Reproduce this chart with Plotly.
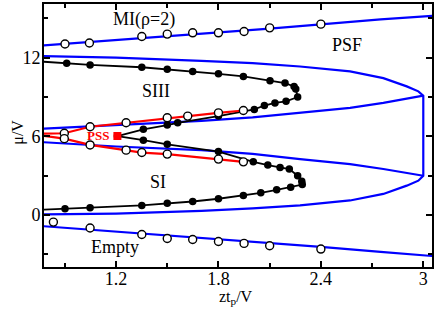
import plotly.graph_objects as go

# ---- data ----
mi_line_x = [0.77, 1.05, 1.35, 1.8, 2.1, 2.4, 2.75, 3.06]
mi_line_y = [12.94, 13.2, 13.48, 13.92, 14.22, 14.55, 14.93, 15.2]
mi_pts_x = [0.901, 1.044, 1.351, 1.50, 1.649, 1.80, 1.95, 2.10, 2.40]
mi_pts_y = [13.05, 13.12, 13.62, 13.8, 13.9, 13.9, 14.0, 14.28, 14.56]

empty_line_x = [0.77, 1.2, 1.8, 2.4, 2.75, 3.06]
empty_line_y = [-0.86, -1.27, -1.85, -2.45, -2.82, -3.15]
empty_pts_x = [0.833, 1.048, 1.351, 1.50, 1.649, 1.80, 1.95, 2.10, 2.40]
empty_pts_y = [-0.55, -1.0, -1.5, -1.8, -1.88, -2.03, -2.18, -2.36, -2.61]

# mean-field lobes (upper outer -> corner -> vertical -> lower corner -> lower outer)
lobe_out_x = [0.77, 1.2, 1.7, 2.0, 2.278, 2.571, 2.766, 2.903, 2.971, 3.0,
              3.0, 2.971, 2.903, 2.766, 2.571, 2.278, 2.0, 1.7, 1.2, 0.77]
lobe_out_y = [12.12, 12.0, 11.76, 11.58, 11.33, 10.95, 10.44, 9.81, 9.43, 9.1,
              2.99, 2.61, 2.23, 1.6, 1.1, 0.72, 0.5, 0.3, 0.1, 0.03]
lobe_up_in_x = [0.77, 1.2, 1.7, 2.0, 2.278, 2.571, 2.766, 2.903, 3.0]
lobe_up_in_y = [6.58, 6.88, 7.18, 7.45, 7.8, 8.17, 8.55, 8.85, 9.1]
lobe_lo_in_x = [0.77, 1.2, 1.7, 2.0, 2.278, 2.571, 2.766, 2.903, 3.0]
lobe_lo_in_y = [5.55, 5.22, 4.94, 4.65, 4.26, 3.88, 3.5, 3.2, 2.99]

# PSS red boundaries
red_up_x = [0.77, 0.897, 1.048, 1.259, 1.50, 1.62, 1.80, 1.946]
red_up_y = [6.2, 6.23, 6.73, 7.03, 7.41, 7.54, 7.79, 7.97]
red_lo_x = [0.77, 0.897, 1.048, 1.259, 1.351, 1.50, 1.80, 1.946]
red_lo_y = [6.05, 5.82, 5.34, 4.94, 4.76, 4.64, 4.26, 4.05]

# black SI / SIII boundary
blk_x = [0.77, 0.911, 1.048, 1.351, 1.50, 1.649, 1.80, 1.946, 2.102, 2.19, 2.243, 2.253,
         2.264, 2.196, 2.131, 2.069, 2.01, 1.80, 1.561, 1.50, 1.36, 1.208, 1.36, 1.50,
         1.80, 2.004, 2.089, 2.161, 2.215, 2.264, 2.288, 2.291, 2.223, 2.141, 2.048,
         1.946, 1.80, 1.649, 1.50, 1.351, 1.048, 0.901, 0.77]
blk_y = [11.7, 11.58, 11.45, 11.27, 11.12, 10.95, 10.77, 10.57, 10.24, 10.06, 9.81, 9.61,
         9.0, 8.67, 8.55, 8.35, 8.05, 7.54, 7.03, 6.86, 6.53, 6.02, 5.7, 5.39,
         4.83, 4.05, 3.8, 3.62, 3.5, 2.99, 2.56, 2.31, 2.11, 1.91, 1.68,
         1.48, 1.23, 1.02, 0.89, 0.72, 0.55, 0.47, 0.39]
pss_x = [1.208]
pss_y = [6.02]

x_ticks = [1.2, 1.8, 2.4, 3.0]
x_ticklabels = ["1.2", "1.8", "2.4", "3"]
x_minor = [0.9, 1.5, 2.1, 2.7]
y_ticks = [0, 6, 12]
y_ticklabels = ["0", "6", "12"]
y_minor = [-3, 3, 9, 15]

labels = ["MI(ρ=2)", "PSF", "SIII", "SI", "Empty"]
label_x = [1.361, 2.552, 1.434, 1.443, 1.194]
label_y = [14.89, 12.97, 9.48, 2.48, -2.48]

FONT = "Liberation Serif"
BLUE = "#0000ff"
RED = "#ff0000"

fig = go.Figure()
for xs, ys in [(mi_line_x, mi_line_y), (empty_line_x, empty_line_y),
               (lobe_out_x, lobe_out_y), (lobe_up_in_x, lobe_up_in_y),
               (lobe_lo_in_x, lobe_lo_in_y)]:
    fig.add_trace(go.Scatter(x=xs, y=ys, mode="lines",
                             line=dict(color=BLUE, width=2.2), hoverinfo="skip"))

fig.add_trace(go.Scatter(x=blk_x, y=blk_y, mode="lines",
                         line=dict(color="black", width=1.8)))
fig.add_trace(go.Scatter(x=blk_x[1:-1], y=blk_y[1:-1], mode="markers",
                         marker=dict(color="black", size=7.5, line=dict(width=0))))

for xs, ys in [(red_up_x, red_up_y), (red_lo_x, red_lo_y)]:
    fig.add_trace(go.Scatter(x=xs, y=ys, mode="lines",
                             line=dict(color=RED, width=2.2)))
    fig.add_trace(go.Scatter(x=xs[1:], y=ys[1:], mode="markers",
                             marker=dict(color="white", size=8,
                                         line=dict(color="black", width=1.4))))

for xs, ys in [(mi_pts_x, mi_pts_y), (empty_pts_x, empty_pts_y)]:
    fig.add_trace(go.Scatter(x=xs, y=ys, mode="markers",
                             marker=dict(color="white", size=8,
                                         line=dict(color="black", width=1.4))))

fig.add_trace(go.Scatter(x=pss_x, y=pss_y, mode="markers",
                         marker=dict(color=RED, symbol="square", size=8, line=dict(width=0))))

for t, x, y in zip(labels, label_x, label_y):
    fig.add_annotation(x=x, y=y, text=t, showarrow=False,
                       font=dict(family=FONT, size=18, color="black"),
                       xanchor="center", yanchor="middle")
fig.add_annotation(x=1.092, y=6.08, text="<b>PSS</b>", showarrow=False,
                   font=dict(family=FONT, size=13, color=RED),
                   xanchor="center", yanchor="middle")

fig.add_annotation(xref="paper", yref="paper", x=-0.068, y=0.513, text="μ/V",
                   textangle=-90, showarrow=False,
                   font=dict(family=FONT, size=16, color="black"),
                   xanchor="center", yanchor="middle")
fig.add_annotation(xref="paper", yref="paper", x=0.495, y=-0.115, text="zt<sub>p</sub>/V",
                   showarrow=False,
                   font=dict(family=FONT, size=16, color="black"),
                   xanchor="center", yanchor="middle")

axis_common = dict(showgrid=False, zeroline=False, showline=True, linecolor="black",
                   linewidth=2, mirror="allticks", ticks="inside", ticklen=6,
                   tickwidth=1.5, tickcolor="black",
                   tickfont=dict(family=FONT, size=18, color="black"))

fig.update_xaxes(range=[0.778, 3.051], tickmode="array", tickvals=x_ticks,
                 ticktext=x_ticklabels, ticklabelstandoff=-6,
                 minor=dict(tickmode="array", tickvals=x_minor, ticks="inside",
                            ticklen=4, tickwidth=1.5, tickcolor="black"),
                 **axis_common)
fig.update_yaxes(range=[-3.98, 16.1], tickmode="array", tickvals=y_ticks,
                 ticktext=y_ticklabels, ticklabelstandoff=-2,
                 minor=dict(tickmode="array", tickvals=y_minor, ticks="inside",
                            ticklen=4, tickwidth=1.5, tickcolor="black"),
                 **axis_common)

fig.update_layout(width=436, height=314, showlegend=False,
                  margin=dict(l=44, r=4, t=2, b=47),
                  plot_bgcolor="white", paper_bgcolor="white",
                  font=dict(family=FONT, size=18, color="black"))

fig.write_html("out.html", config={"displayModeBar": False},
               post_script="document.body.style.margin='0px';document.body.style.padding='0px';")
